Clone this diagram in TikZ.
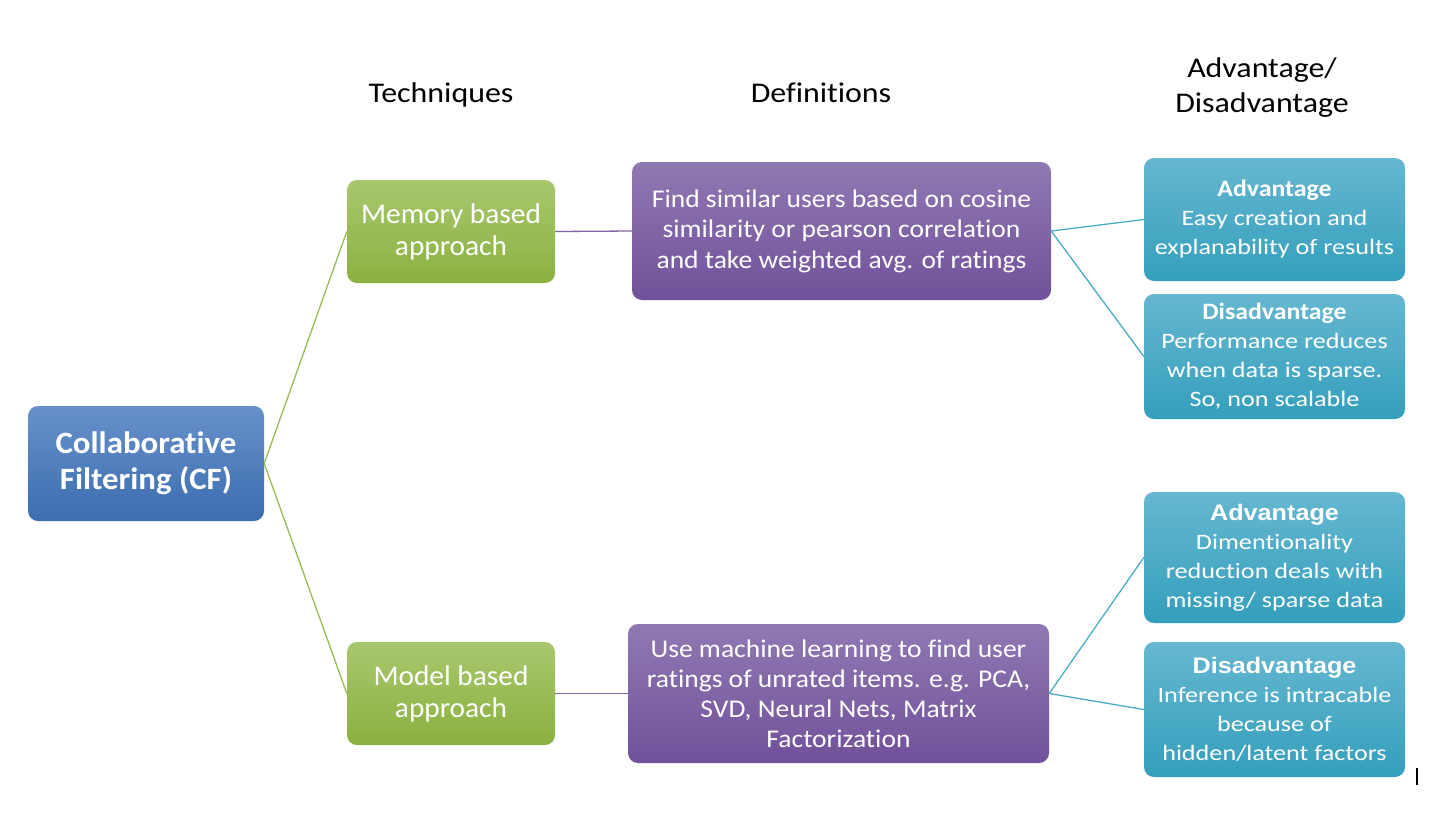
\documentclass[tikz,border=0pt]{standalone}
\usepackage{fontspec}
\setmainfont[Ligatures=NoCommon]{Carlito}
\newfontfamily\headfont[Ligatures=NoCommon,FakeStretch=1.12]{Carlito}
\newfontfamily\cffont[Ligatures=NoCommon,FakeStretch=1.06]{Carlito}
\newfontfamily\memfont[Ligatures=NoCommon,FakeStretch=1.03]{Carlito}
\newfontfamily\deffont[Ligatures=NoCommon,FakeStretch=1.08]{Carlito}
\newfontfamily\tealfont[Ligatures=NoCommon,FakeStretch=1.19]{Carlito}
\newfontfamily\tealtitle[Ligatures=NoCommon,FakeStretch=1.10]{Carlito}
\newfontfamily\arialfont[FakeStretch=1.12]{Liberation Sans}
\begin{document}
\begin{tikzpicture}[x=1pt,y=-1pt,
  box/.style={rounded corners=10pt, text=white, align=center, inner sep=0pt, anchor=center},
  bluebox/.style={box, top color=cfTop, bottom color=cfBot},
  greenbox/.style={box, top color=grTop, bottom color=grBot},
  purplebox/.style={box, top color=puTop, bottom color=puBot},
  tealbox/.style={box, top color=teTop, bottom color=teBot},
  header/.style={anchor=center, align=center, text=black, font=\headfont\fontsize{28.5}{35}\selectfont},
  gline/.style={draw=grLine, line width=1.3pt},
  pline/.style={draw=puLine, line width=1.3pt},
  tline/.style={draw=teLine, line width=1.3pt}
]
\definecolor{cfTop}{HTML}{6891CA}
\definecolor{cfBot}{HTML}{3B6DB0}
\definecolor{grTop}{HTML}{A9C76E}
\definecolor{grBot}{HTML}{8BB140}
\definecolor{puTop}{HTML}{9079B3}
\definecolor{puBot}{HTML}{71519A}
\definecolor{teTop}{HTML}{66B7D0}
\definecolor{teBot}{HTML}{349FBC}
\definecolor{grLine}{HTML}{9BBB59}
\definecolor{puLine}{HTML}{8064A2}
\definecolor{teLine}{HTML}{4BACC6}
\useasboundingbox (0,0) rectangle (1440,820);
\fill[white] (0,0) rectangle (1440,820);

% headers
\node[header] (hTech) at (441,95) {Techniques};
\node[header] (hDef) at (821,93) {Definitions};
\node[header] (hAdv) at (1262,88) {Advantage/\\Disadvantage};

% boxes
\node[bluebox, minimum width=236pt, minimum height=115pt, font=\cffont\bfseries\fontsize{31}{36}\selectfont] (cf) at (146,463.5) {Collaborative\\Filtering (CF)};

\node[greenbox, minimum width=208pt, minimum height=103pt, font=\memfont\fontsize{28.5}{32}\selectfont] (mem) at (451,231.5) {Memory based\\approach};
\node[greenbox, minimum width=208pt, minimum height=103pt, font=\memfont\fontsize{28.5}{32}\selectfont] (mod) at (451,693.5) {Model based\\approach};

\node[purplebox, minimum width=419pt, minimum height=138pt, font=\deffont\fontsize{25.5}{30.5}\selectfont] (def1) at (841.5,231) {Find similar users based on cosine\\similarity or pearson correlation\\and take weighted avg. of ratings};
\node[purplebox, minimum width=421pt, minimum height=139pt, font=\deffont\fontsize{25.5}{30}\selectfont] (def2) at (838.5,693.5) {Use machine learning to find user\\ratings of unrated items. e.g. PCA,\\SVD, Neural Nets, Matrix\\Factorization};

\node[tealbox, minimum width=261pt, minimum height=123pt, font=\tealfont\fontsize{22}{29}\selectfont] (adv1) at (1274.5,219.5) {{\tealtitle\bfseries\fontsize{23.5}{29}\selectfont Advantage}\\Easy creation and\\explanability of results};
\node[tealbox, minimum width=261pt, minimum height=125pt, font=\tealfont\fontsize{22}{29}\selectfont] (dis1) at (1274.5,356.5) {{\tealtitle\bfseries\fontsize{23.5}{29}\selectfont Disadvantage}\\Performance reduces\\when data is sparse.\\So, non scalable};
\node[tealbox, minimum width=261pt, minimum height=131pt, font=\tealfont\fontsize{22}{29}\selectfont] (adv2) at (1274.5,557.5) {{\arialfont\bfseries\fontsize{22.5}{29}\selectfont Advantage}\\Dimentionality\\reduction deals with\\missing/ sparse data};
\node[tealbox, minimum width=261pt, minimum height=135pt, font=\tealfont\fontsize{22}{29}\selectfont] (dis2) at (1274.5,709.5) {{\arialfont\bfseries\fontsize{22.5}{29}\selectfont Disadvantage}\\Inference is intracable\\because of\\hidden/latent factors};

% connectors
\draw[gline] (cf.east) -- (mem.west);
\draw[gline] (cf.east) -- (mod.west);
\draw[pline] (mem.east) -- (def1.west);
\draw[pline] (mod.east) -- (def2.west);
\draw[tline] (def1.east) -- (adv1.west);
\draw[tline] (def1.east) -- (dis1.west);
\draw[tline] (def2.east) -- (adv2.west);
\draw[tline] (def2.east) -- (dis2.west);

% stray mark
\coordinate (markTop) at (1417,768);
\coordinate (markBot) at (1417,785);
\draw[black, line width=1.5pt] (markTop) -- (markBot);
\end{tikzpicture}
\end{document}
